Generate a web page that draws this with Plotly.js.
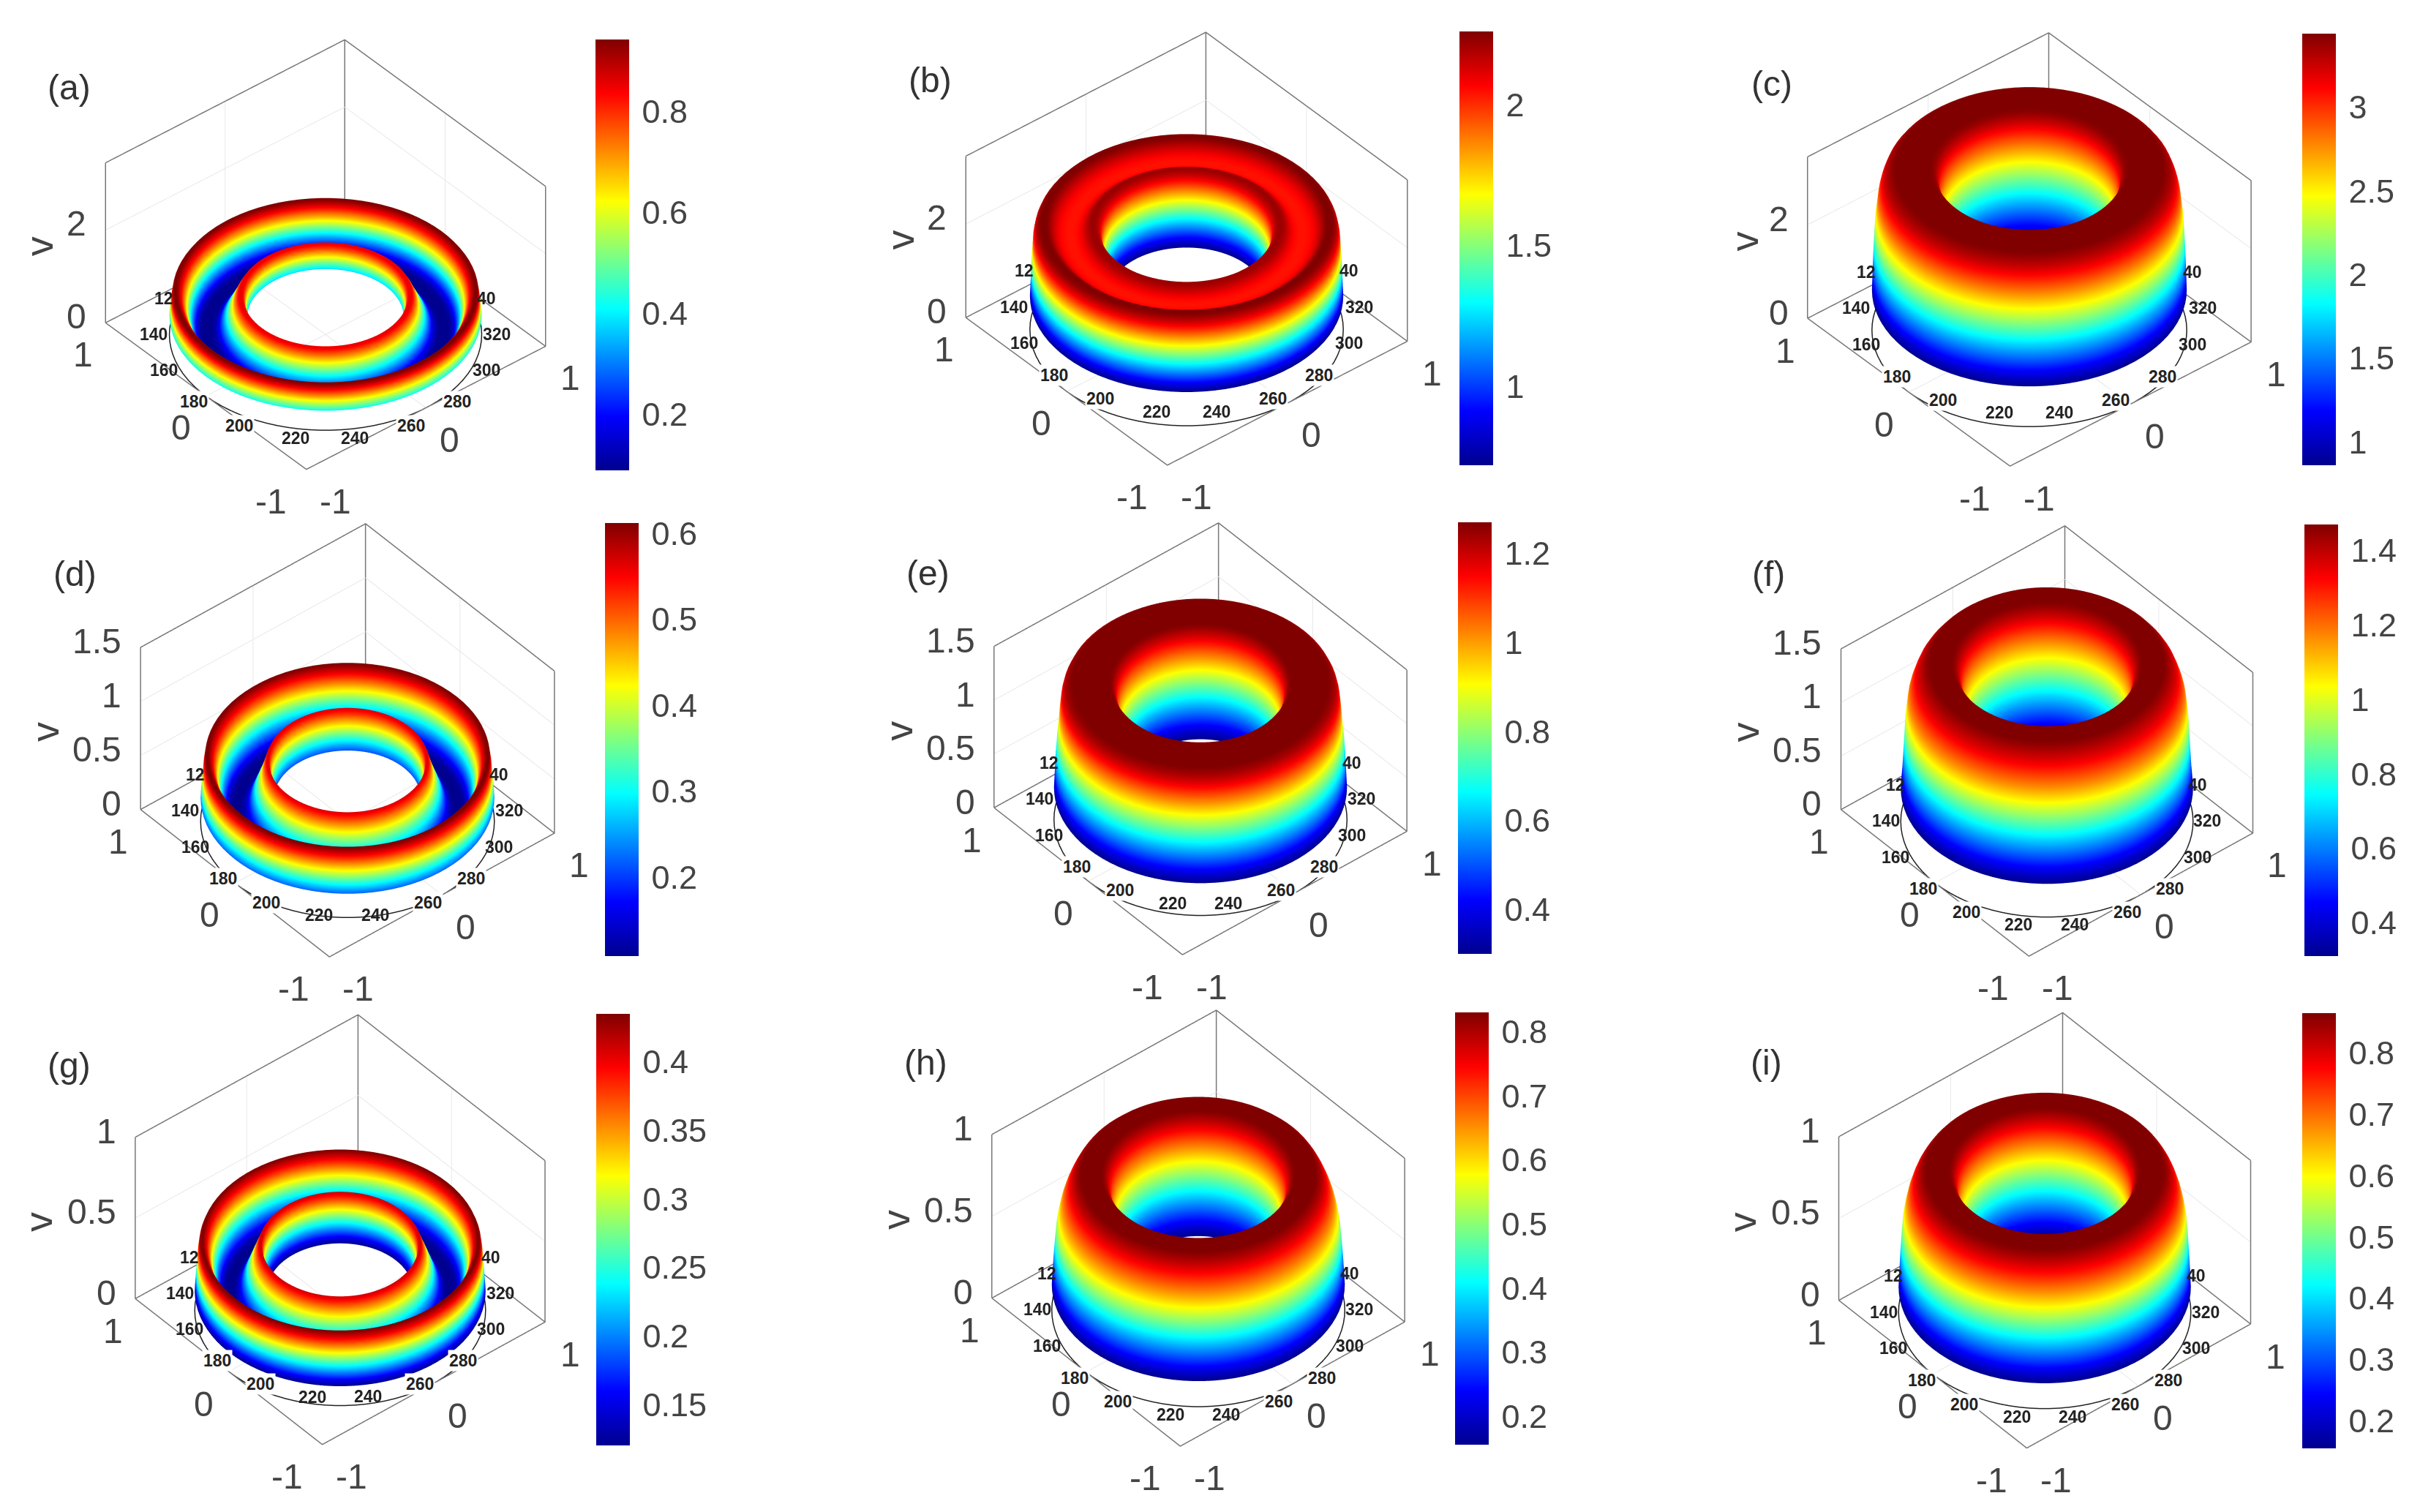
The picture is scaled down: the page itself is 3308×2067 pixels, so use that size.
<!DOCTYPE html>
<html>
<head>
<meta charset="utf-8">
<script src="https://cdn.plot.ly/plotly-3.0.1.min.js"></script>
<style>html,body{margin:0;padding:0;background:#fff}</style>
</head>
<body>
<div id="chart" style="width:3308px;height:2067px"></div>
<script>
// radial positions shared by all nine profiles
var radii = [.50,.51,.52,.53,.54,.55,.56,.58,.60,.62,.64,.66,.68,.70,.72,.74,.76,.78,.80,.82,.84,.86,.88,.90,.92,.94,.95,.96,.97,.98,.99,1.0];

// v along the radius
var vA = [.38,.62,.78,.84,.85,.85,.83,.73,.60,.49,.38,.28,.19,.13,.095,.089,.089,.089,.10,.15,.25,.38,.55,.70,.82,.90,.93,.94,.942,.90,.72,.42];
var vB = [.72,1.0,1.4,1.75,1.98,2.1,2.16,2.21,2.22,2.2,2.16,2.11,2.07,2.05,2.04,2.04,2.04,2.05,2.06,2.09,2.13,2.18,2.23,2.26,2.26,2.24,2.21,2.17,2.1,1.95,1.45,.72];
var vC = [.86,1.2,1.55,1.85,2.2,2.5,2.85,3.25,3.38,3.42,3.44,3.44,3.44,3.44,3.44,3.44,3.44,3.44,3.44,3.44,3.44,3.42,3.38,3.33,3.25,3.1,3.0,2.86,2.6,2.35,1.8,.86];
var vD = [.21,.33,.46,.54,.565,.56,.53,.45,.38,.32,.26,.20,.155,.125,.112,.108,.108,.11,.125,.165,.23,.31,.41,.50,.56,.60,.61,.612,.60,.52,.38,.22];
var vE = [.30,.42,.55,.70,.85,.97,1.07,1.2,1.25,1.27,1.27,1.27,1.27,1.27,1.27,1.27,1.27,1.27,1.27,1.27,1.27,1.27,1.265,1.25,1.23,1.18,1.13,1.02,.87,.74,.57,.30];
var vF = [.31,.45,.6,.75,.88,1.0,1.1,1.27,1.38,1.43,1.46,1.47,1.47,1.47,1.47,1.47,1.47,1.47,1.47,1.45,1.43,1.40,1.37,1.33,1.27,1.20,1.15,1.05,.93,.7,.47,.31];
var vG = [.12,.19,.29,.37,.405,.41,.40,.36,.32,.28,.24,.20,.165,.14,.125,.12,.12,.122,.13,.155,.195,.25,.31,.365,.405,.43,.435,.43,.41,.35,.24,.12];
var vH = [.156,.22,.28,.35,.42,.49,.55,.66,.74,.79,.815,.83,.83,.83,.83,.83,.83,.83,.83,.815,.80,.775,.745,.71,.67,.62,.585,.55,.495,.40,.29,.156];
var vI = [.155,.22,.29,.36,.44,.51,.58,.69,.78,.83,.855,.865,.865,.865,.865,.865,.865,.865,.865,.858,.845,.825,.80,.77,.73,.68,.645,.61,.56,.46,.33,.155];
var profiles = [vA,vB,vC,vD,vE,vF,vG,vH,vI];

var panelNames = ['(a)','(b)','(c)','(d)','(e)','(f)','(g)','(h)','(i)'];
var colorMin = [.089,.72,.86,.108,.30,.31,.12,.156,.155];
var colorMax = [.942,2.26,3.44,.612,1.27,1.47,.435,.83,.865];
var barTicks = [[.2,.4,.6,.8],[1,1.5,2],[1,1.5,2,2.5,3],[.2,.3,.4,.5,.6],[.4,.6,.8,1,1.2],[.4,.6,.8,1,1.2,1.4],[.15,.2,.25,.3,.35,.4],[.2,.3,.4,.5,.6,.7,.8],[.2,.3,.4,.5,.6,.7,.8]];
var zTop = [3.45,3.45,3.45,1.5,1.5,1.5,1,1,1];
var zTicks = [[0,2],[0,2],[0,2],[0,.5,1,1.5],[0,.5,1,1.5],[0,.5,1,1.5],[0,.5,1],[0,.5,1],[0,.5,1]];
var floorTicks = [-1,0,1];
var thetaLabels = [[120,'12'],[140,'140'],[160,'160'],[180,'180'],[200,'200'],[220,'220'],[240,'240'],[260,'260'],[280,'280'],[300,'300'],[320,'320'],[340,'40']];

// page layout of each panel, in pixels
var centerX = [444.5,1622,2774,474.5,1641,2797.5,465,1638,2795];
var centerY = [347.5,339.5,341,1011.5,1010,1012.5,1681,1678.5,1682];
var floorSize = [429.5,431,433,404,403,402,400,403,402];
var elevSin = [.613,.615,.613,.655,.655,.655,.655,.66,.66];
var boxHeight = [220,222,222,223,222,221,222,225,225];
var thetaLift = [0,30,30,14,28,0,23,0,0];
var vShift = [90,90,87,130,131,131,133,132,133];
var barX0 = [814,1995,3147,827,1993,3150,815,1989,3147];
var barTop = [54,43,46,715,714,717,1386,1384,1385];
var barBottom = [643,636,636,1307,1304,1307,1976,1975,1980];
var nameX = [94,1271,2422,102,1268,2417,94,1265,2414];
var nameY = [120,109,114,785,783,785,1456,1452,1452];

var pageW = 3308, pageH = 2067;
var sceneW = 860, sceneH = 660;
// pixels per unit of aspectratio at this scene height (measured from a test render)
var pxPerAspect = 332;
var dirX = .643, dirY = .766;
var font = '"Liberation Sans", Arial, sans-serif';
var jet = [[0,'#00008f'],[.125,'#0000ff'],[.375,'#00ffff'],[.625,'#ffff00'],[.875,'#ff0000'],[1,'#800000']];

var thetaDeg = [];
for (var t = 0; t <= 360; t += 4) thetaDeg.push(t);

var traces = [];
var layout = {
    width: pageW, height: pageH,
    margin: {l: 0, r: 0, t: 0, b: 0},
    paper_bgcolor: '#fff',
    showlegend: false,
    annotations: []
};

function boxLines(top) {
    var x = [-1,1,1,null,-1,-1,null,1,1,null,1,1,null,-1,-1,1,1,-1];
    var y = [1,1,-1,null,1,1,null,-1,-1,null,1,1,null,1,-1,-1,1,1];
    var z = [top,top,top,null,0,top,null,0,top,null,0,top,null,0,0,0,0,0];
    return {x: x, y: y, z: z};
}

function gridLines(top, ticks) {
    var x = [0,0,null,1,1,null,0,0,null,-1,1,null];
    var y = [1,1,null,0,0,null,-1,1,null,0,0,null];
    var z = [0,top,null,0,top,null,0,0,null,0,0,null];
    ticks.forEach(function (v) {
        if (v === 0 || v === top) return;
        x.push(-1,1,1,null); y.push(1,1,-1,null); z.push(v,v,v,null);
    });
    return {x: x, y: y, z: z};
}

profiles.forEach(function (prof, p) {
    var id = p === 0 ? 'scene' : 'scene' + (p + 1);
    var X = [], Y = [], Z = [];
    radii.forEach(function (r, i) {
        var rowX = [], rowY = [], rowZ = [];
        thetaDeg.forEach(function (d) {
            rowX.push(r * Math.cos(d * Math.PI / 180));
            rowY.push(r * Math.sin(d * Math.PI / 180));
            rowZ.push(prof[i]);
        });
        X.push(rowX); Y.push(rowY); Z.push(rowZ);
    });

    traces.push({
        type: 'surface', scene: id, x: X, y: Y, z: Z,
        colorscale: jet, cmin: colorMin[p], cmax: colorMax[p],
        lighting: {ambient: 1, diffuse: 0, specular: 0, roughness: 1, fresnel: 0},
        hoverinfo: 'skip',
        colorbar: {
            x: barX0[p] / pageW, xanchor: 'left', xpad: 0,
            y: 1 - barBottom[p] / pageH, yanchor: 'bottom', ypad: 0,
            len: (barBottom[p] - barTop[p]) / pageH, lenmode: 'fraction',
            thickness: 46, thicknessmode: 'pixels',
            outlinewidth: 0,
            tickmode: 'array', tickvals: barTicks[p],
            ticktext: barTicks[p].map(String),
            ticks: 'outside', ticklen: 9, tickcolor: '#fff',
            tickfont: {family: font, size: 45, color: '#444'}
        }
    });

    var box = boxLines(zTop[p]);
    traces.push({type: 'scatter3d', mode: 'lines', scene: id, x: box.x, y: box.y, z: box.z,
        line: {color: '#777', width: 3}, hoverinfo: 'skip', showlegend: false});
    var grid = gridLines(zTop[p], zTicks[p]);
    traces.push({type: 'scatter3d', mode: 'lines', scene: id, x: grid.x, y: grid.y, z: grid.z,
        line: {color: '#e8e8e8', width: 2}, hoverinfo: 'skip', showlegend: false});
    traces.push({type: 'scatter3d', mode: 'lines', scene: id,
        x: thetaDeg.map(function (d) { return Math.cos(d * Math.PI / 180); }),
        y: thetaDeg.map(function (d) { return Math.sin(d * Math.PI / 180); }),
        z: thetaDeg.map(function () { return 0; }),
        line: {color: '#222', width: 3}, hoverinfo: 'skip', showlegend: false});

    var cosE = Math.sqrt(1 - elevSin[p] * elevSin[p]);
    var dist = 2;
    var notes = [];
    function note(x, y, z, text, xs, ys, opts) {
        var n = {x: x, y: y, z: z, text: text, showarrow: false, xshift: xs, yshift: ys,
            xanchor: 'center', yanchor: 'middle',
            font: {family: font, size: 48, color: '#444'}};
        for (var k in opts) n[k] = opts[k];
        notes.push(n);
    }
    // v ticks
    zTicks[p].forEach(function (v) {
        note(-1, 1, v, String(v), -24, 8, {xanchor: 'right'});
    });
    note(-1, 1, zTop[p] / 2, 'v', -vShift[p], -5, {textangle: -90, font: {family: font, size: 54, color: '#444'}});
    // floor ticks on the two front edges
    floorTicks.forEach(function (v, i) {
        note(-1, v, 0, String(v), -[48, 34, 30][i], -44);
        note(v, -1, 0, String(v), [40, 33, 34][i], -44);
    });
    // polar angle labels
    thetaLabels.forEach(function (lab) {
        var a = lab[0] * Math.PI / 180;
        var half = floorSize[p] / 2, extra = .14;
        var xs = extra * half * (Math.cos(a) * dirY - Math.sin(a) * dirX);
        var ys = extra * half * elevSin[p] * (Math.cos(a) * dirX + Math.sin(a) * dirY) + thetaLift[p];
        var opts = {font: {family: font, size: 23, color: '#222'}};
        if (lab[0] >= 180 && lab[0] <= 280 && lab[0] != 220 && lab[0] != 240) opts.bgcolor = '#fff';
        note(.96 * Math.cos(a), .96 * Math.sin(a), 0, '<b>' + lab[1] + '</b>', xs, ys, opts);
    });

    var aspectXY = floorSize[p] / pxPerAspect;
    layout[id] = {
        domain: {
            x: [(centerX[p] - sceneW / 2) / pageW, (centerX[p] + sceneW / 2) / pageW],
            y: [1 - (centerY[p] + sceneH / 2) / pageH, 1 - (centerY[p] - sceneH / 2) / pageH]
        },
        aspectmode: 'manual',
        aspectratio: {x: aspectXY, y: aspectXY, z: (boxHeight[p] / cosE) / pxPerAspect},
        camera: {
            projection: {type: 'orthographic'},
            up: {x: 0, y: 0, z: 1},
            center: {x: 0, y: 0, z: 0},
            eye: {x: -dirX * cosE * dist, y: -dirY * cosE * dist, z: elevSin[p] * dist}
        },
        xaxis: {visible: false, range: [-1, 1]},
        yaxis: {visible: false, range: [-1, 1]},
        zaxis: {visible: false, range: [0, zTop[p]]},
        annotations: notes
    };

    layout.annotations.push({
        xref: 'paper', yref: 'paper', x: nameX[p] / pageW, y: 1 - nameY[p] / pageH,
        text: panelNames[p], showarrow: false, xanchor: 'center', yanchor: 'middle',
        font: {family: font, size: 48, color: '#333'}
    });
});

Plotly.newPlot('chart', traces, layout, {displayModeBar: false});
</script>
</body>
</html>
